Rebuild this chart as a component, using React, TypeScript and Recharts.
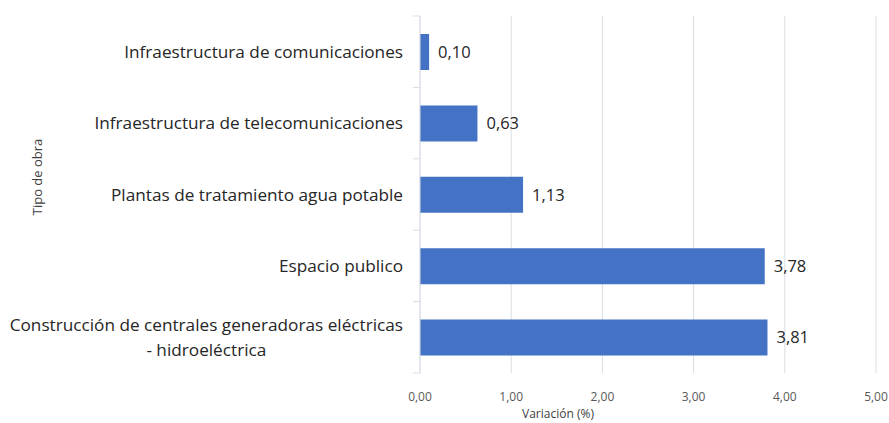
import { BarChart, Bar, XAxis, YAxis, CartesianGrid, LabelList, Label } from "recharts";

document.body.style.margin = "0";

// ─── Data ─────────────────────────────────────────────────────────────────────

const categories = [
  "Infraestructura de comunicaciones",
  "Infraestructura de telecomunicaciones",
  "Plantas de tratamiento agua potable",
  "Espacio publico",
  "Construcción de centrales generadoras eléctricas - hidroeléctrica",
];
const variacion = [0.1, 0.63, 1.13, 3.78, 3.81];
const xTicks = [0, 1, 2, 3, 4, 5];

const data = categories.map((tipo, i) => ({ tipo, variacion: variacion[i] }));

const FONT = "'Open Sans', sans-serif";
const BAR = "#4472C4";
const GRID = "#d9dde4";
const fmt = (v: number) => v.toFixed(2).replace(".", ",");

let ctx: CanvasRenderingContext2D | null = null;
function textWidth(s: string, size: number) {
  if (!ctx) ctx = document.createElement("canvas").getContext("2d");
  if (!ctx) return s.length * size * 0.5;
  ctx.font = `${size}px 'Open Sans'`;
  return ctx.measureText(s).width;
}

// ─── Category tick (wraps at " - ", centred block, right aligned) ────────────

function CategoryTick(props: any) {
  const { x, y, payload, index } = props;
  const size = 17.2;
  const parts: string[] = payload.value.split(" - ");
  const lines = parts.length > 1 ? [parts[0], "- " + parts[1]] : parts;
  const right = x - 17;
  const maxW = Math.max(...lines.map((l) => textWidth(l, size)));
  const cx = right - maxW / 2;
  const lh = 25;
  const half = payload.offset ?? 0;
  return (
    <g>
      <line x1={x - 7} x2={x} y1={y - half} y2={y - half} stroke={GRID} />
      {index === categories.length - 1 && (
        <line x1={x - 7} x2={x} y1={y + half} y2={y + half} stroke={GRID} />
      )}
      {lines.map((l, i) => (
        <text
          key={i}
          x={lines.length > 1 ? cx : right}
          y={y + (i - (lines.length - 1) / 2) * lh}
          dy="0.35em"
          textAnchor={lines.length > 1 ? "middle" : "end"}
          fontSize={size}
          fontFamily={FONT}
          fill="#262626"
        >
          {l}
        </text>
      ))}
    </g>
  );
}

// ─── Chart ────────────────────────────────────────────────────────────────────

export default function App() {
  return (
    <BarChart
      width={889}
      height={423}
      data={data}
      layout="vertical"
      margin={{ top: 16, right: 13, left: 0, bottom: 0 }}
    >
      <CartesianGrid horizontal={false} stroke={GRID} />
      <XAxis
        type="number"
        domain={[0, 5]}
        ticks={xTicks}
        tickFormatter={fmt}
        axisLine={false}
        tickLine={false}
        tickSize={0}
        tickMargin={19}
        height={50}
        tick={{ fontSize: 12, fill: "#595959", fontFamily: FONT }}
      >
        <Label
          content={({ viewBox }: any) => (
            <text
              x={viewBox.x + 138}
              y={viewBox.y + 45}
              textAnchor="middle"
              fontSize={12}
              fontFamily={FONT}
              fill="#404040"
            >
              Variación (%)
            </text>
          )}
        />
      </XAxis>
      <YAxis
        type="category"
        dataKey="tipo"
        width={420}
        axisLine={{ stroke: GRID }}
        tickLine={false}
        tickSize={0}
        tickMargin={0}
        tick={<CategoryTick />}
        interval={0}
      >
        <Label
          content={() => (
            <text
              x={37}
              y={177}
              transform="rotate(-90 37 177)"
              textAnchor="middle"
              dy="0.35em"
              fontSize={13}
              fontFamily={FONT}
              fill="#404040"
            >
              Tipo de obra
            </text>
          )}
        />
      </YAxis>
      <Bar dataKey="variacion" fill={BAR} barSize={36} isAnimationActive={false}>
        <LabelList
          dataKey="variacion"
          position="right"
          offset={9}
          formatter={(v: any) => fmt(Number(v))}
          fill="#262626"
          fontSize={16.5}
          fontFamily={FONT}
        />
      </Bar>
    </BarChart>
  );
}
